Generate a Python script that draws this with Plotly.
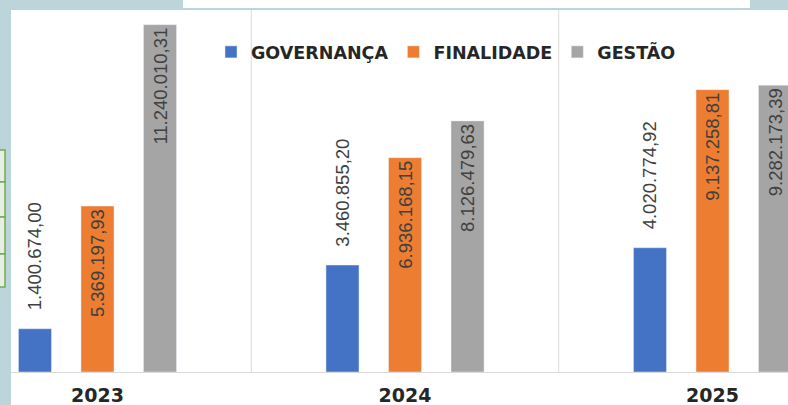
import plotly.graph_objects as go

# ---- data ----
years = ["2023", "2024", "2025"]
governanca = [1400674.00, 3460855.20, 4020774.92]
finalidade = [5369197.93, 6936168.15, 9137258.81]
gestao = [11240010.31, 8126479.63, 9282173.39]
series_names = ["GOVERNANÇA", "FINALIDADE", "GESTÃO"]
colors = ["#4472C4", "#ED7D31", "#A5A5A5"]

W, H = 788, 405
ML, MB = 11, 33
PW, PH = W - ML, H - MB


def br(v):
    s = f"{v:,.2f}"
    return s.replace(",", "X").replace(".", ",").replace("X", ".")


def px_x(p):
    return (p - ML) / PW


def px_y(p):
    return (PH - p) / PH


xpos = list(range(len(years)))
label_font = dict(family="Liberation Sans", size=18.5, color="#404040")

fig = go.Figure()
fig.add_trace(go.Bar(
    x=xpos, y=governanca, name=series_names[0], marker_color=colors[0],
    text=["\u00a0\u00a0\u00a0" + br(v) for v in governanca],
    textposition="outside", textangle=-90, textfont=label_font,
    outsidetextfont=label_font, constraintext="none", cliponaxis=False,
    hoverinfo="skip",
))
fig.add_trace(go.Bar(
    x=xpos, y=finalidade, name=series_names[1], marker_color=colors[1],
    text=[br(v) for v in finalidade],
    textposition="inside", insidetextanchor="end", textangle=-90,
    textfont=label_font, insidetextfont=label_font, constraintext="none",
    hoverinfo="skip",
))
fig.add_trace(go.Bar(
    x=xpos, y=gestao, name=series_names[2], marker_color=colors[2],
    text=[br(v) for v in gestao],
    textposition="inside", insidetextanchor="end", textangle=-90,
    textfont=label_font, insidetextfont=label_font, constraintext="none",
    hoverinfo="skip",
))

shapes = [
    # white chart area
    dict(type="rect", xref="paper", yref="paper", x0=px_x(11), x1=px_x(790),
         y0=px_y(407), y1=px_y(10), fillcolor="white", line_width=0, layer="below"),
    # white box at very top
    dict(type="rect", xref="paper", yref="paper", x0=px_x(183), x1=px_x(750),
         y0=px_y(8), y1=px_y(-2), fillcolor="white", line_width=0, layer="below"),
    # category separators
    dict(type="line", xref="x", yref="paper", x0=0.5, x1=0.5, y0=0, y1=px_y(10),
         line=dict(color="#d9d9d9", width=1), layer="below"),
    dict(type="line", xref="x", yref="paper", x0=1.5, x1=1.5, y0=0, y1=px_y(10),
         line=dict(color="#d9d9d9", width=1), layer="below"),
]
# green boxes on the left edge (background)
edges = [150, 182, 217, 254, 287]
for a, b in zip(edges[:-1], edges[1:]):
    shapes.append(dict(type="rect", xref="paper", yref="paper", x0=px_x(-5), x1=px_x(5),
                       y0=px_y(b), y1=px_y(a), line=dict(color="#70AD47", width=1.5),
                       fillcolor="#e6eee6", layer="below"))

fig.update_layout(
    width=W, height=H,
    margin=dict(l=ML, r=0, t=0, b=MB, pad=0, autoexpand=False),
    paper_bgcolor="#bcd5da",
    plot_bgcolor="rgba(0,0,0,0)",
    barmode="group", bargap=0.39, bargroupgap=0.472,
    showlegend=True,
    legend=dict(orientation="h", x=px_x(211), xanchor="left", y=px_y(52), yanchor="middle",
                font=dict(family="DejaVu Sans", size=17.5, color="#262626", weight="bold"),
                bgcolor="rgba(0,0,0,0)", traceorder="normal"),
    shapes=shapes,
    xaxis=dict(range=[-0.2813, 2.2455], tickvals=xpos, ticktext=years,
               showgrid=False, zeroline=False, showline=True, linecolor="#d9d9d9",
               linewidth=1, ticks="", ticklabelstandoff=6, automargin=False,
               tickfont=dict(family="DejaVu Sans", size=19, color="#262626", weight="bold")),
    yaxis=dict(range=[0, 372 / 30.9e-6], visible=False, showgrid=False, automargin=False),
)

fig.write_html("out.html", config={"displayModeBar": False},
               post_script="document.body.style.margin='0px';")
